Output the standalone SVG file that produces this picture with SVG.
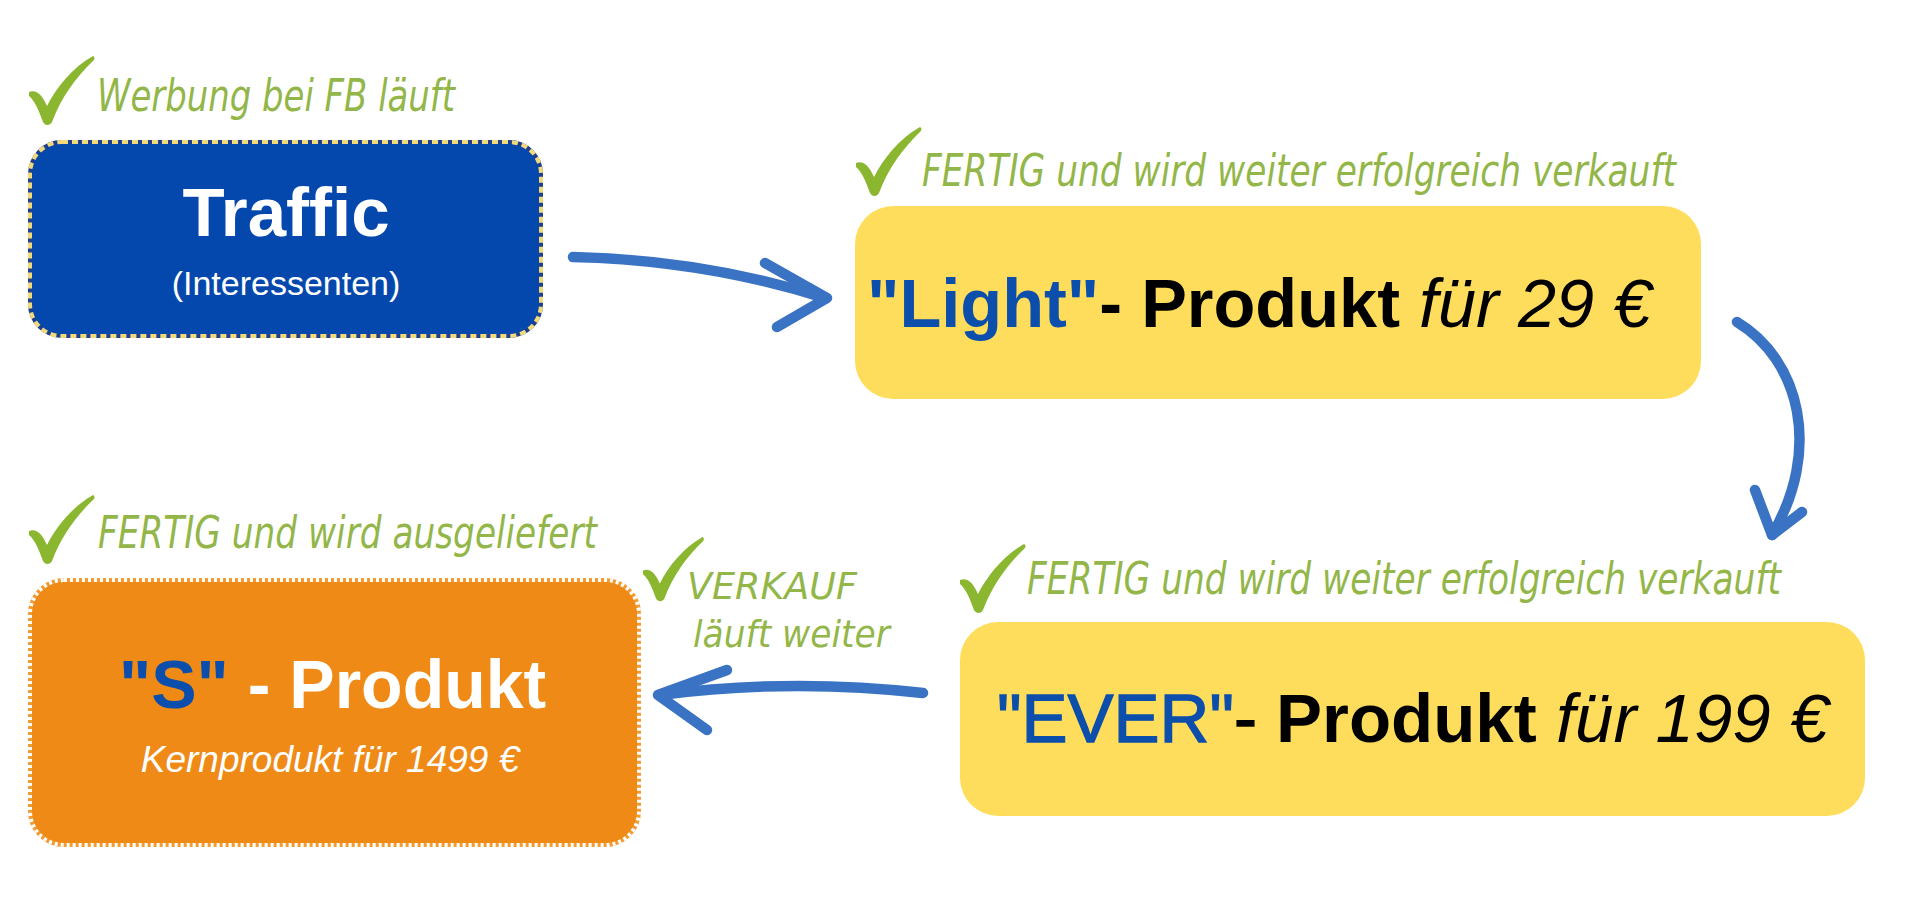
<svg xmlns="http://www.w3.org/2000/svg" width="1920" height="900" viewBox="0 0 1920 900">
<style>
.main{font-family:"Liberation Sans",Arial,sans-serif;}
.note{font-family:"DejaVu Sans Condensed","DejaVu Sans",sans-serif;font-style:italic;fill:#93B649;font-size:44px;}
.small{font-size:38px;}
.arrow{fill:none;stroke:#3B73C4;stroke-width:10.5;stroke-linecap:round;stroke-linejoin:round;}
.chk{fill:#8AB72F;}
</style>
<defs>
<path id="check" d="M0,36 C7,33 13,38 18,50 C27,32 43,12 64,0 C66,1 66,3 64,5 C47,21 32,42 23,66 C21,70 16,70 14,66 C10,55 6,45 0,40 Z"/>
</defs>
<rect width="1920" height="900" fill="#ffffff"/>

<g id="connectors">
  <path class="arrow" d="M573,257 Q705,260 825,298"/>
  <path class="arrow" d="M765,263 L827,298 L777,327"/>
  <path class="arrow" d="M1737,322 C1800,360 1822,450 1772,535"/>
  <path class="arrow" d="M1755,490 L1772,535 L1802,512"/>
  <path class="arrow" d="M923,693 Q790,678 660,695"/>
  <path class="arrow" d="M727,670 L658,695 L707,730"/>
</g>

<g id="traffic">
  <use href="#check" class="chk" x="29" y="56"/>
  <text class="note" x="97" y="111" textLength="358" lengthAdjust="spacingAndGlyphs">Werbung bei FB läuft</text>
  <rect x="30" y="142" width="511" height="194" rx="32" fill="#0548AD" stroke="#1E3F8F" stroke-width="4"/>
  <rect x="30" y="142" width="511" height="194" rx="32" fill="none" stroke="#F1DA7C" stroke-width="4" stroke-dasharray="6 4"/>
  <text class="main" x="286" y="236" text-anchor="middle" font-size="69" font-weight="bold" fill="#ffffff">Traffic</text>
  <text class="main" x="286" y="295" text-anchor="middle" font-size="34" fill="#ffffff">(Interessenten)</text>
</g>

<g id="light">
  <use href="#check" class="chk" x="856" y="127"/>
  <text class="note" x="922" y="186" textLength="754" lengthAdjust="spacingAndGlyphs">FERTIG und wird weiter erfolgreich verkauft</text>
  <rect x="855" y="206" width="846" height="193" rx="38" fill="#FEDD5C"/>
  <text class="main" x="867" y="327" font-size="68.5"><tspan font-weight="bold" fill="#0B4EAB">"Light"</tspan><tspan font-weight="bold" fill="#000000">- Produkt</tspan><tspan font-style="italic" fill="#000000"> für 29 €</tspan></text>
</g>

<g id="ever">
  <use href="#check" class="chk" x="960" y="544"/>
  <text class="note" x="1027" y="594" textLength="754" lengthAdjust="spacingAndGlyphs">FERTIG und wird weiter erfolgreich verkauft</text>
  <rect x="960" y="622" width="905" height="194" rx="38" fill="#FEDD5C"/>
  <text class="main" x="997" y="742" font-size="69"><tspan fill="#0B4EAB" stroke="#0B4EAB" stroke-width="1.3">"EVER"</tspan><tspan fill="#000000" stroke="#000000" stroke-width="1.3">- </tspan><tspan font-weight="bold" fill="#000000">Produkt</tspan><tspan font-style="italic" fill="#000000"> für 199 €</tspan></text>
</g>

<g id="s-produkt">
  <use href="#check" class="chk" x="29" y="495"/>
  <text class="note" x="98" y="548" textLength="499" lengthAdjust="spacingAndGlyphs">FERTIG und wird ausgeliefert</text>
  <rect x="30" y="580" width="609" height="265" rx="34" fill="#EF8A17" stroke="#F39A30" stroke-width="4"/>
  <rect x="30" y="580" width="609" height="265" rx="34" fill="none" stroke="#ffffff" stroke-width="4" stroke-dasharray="3 3"/>
  <text class="main" x="119" y="708" font-size="68" font-weight="bold"><tspan fill="#0B4EAB">"S"</tspan><tspan fill="#ffffff"> - Produkt</tspan></text>
  <text class="main" x="330" y="772" text-anchor="middle" font-size="37" font-style="italic" fill="#ffffff">Kernprodukt für 1499 €</text>
</g>

<g id="verkauf-note">
  <use href="#check" class="chk" transform="translate(643,537) scale(0.93)"/>
  <text class="note small" x="687" y="599" textLength="170" lengthAdjust="spacingAndGlyphs">VERKAUF</text>
  <text class="note small" x="693" y="647" textLength="197" lengthAdjust="spacingAndGlyphs">läuft weiter</text>
</g>
</svg>
